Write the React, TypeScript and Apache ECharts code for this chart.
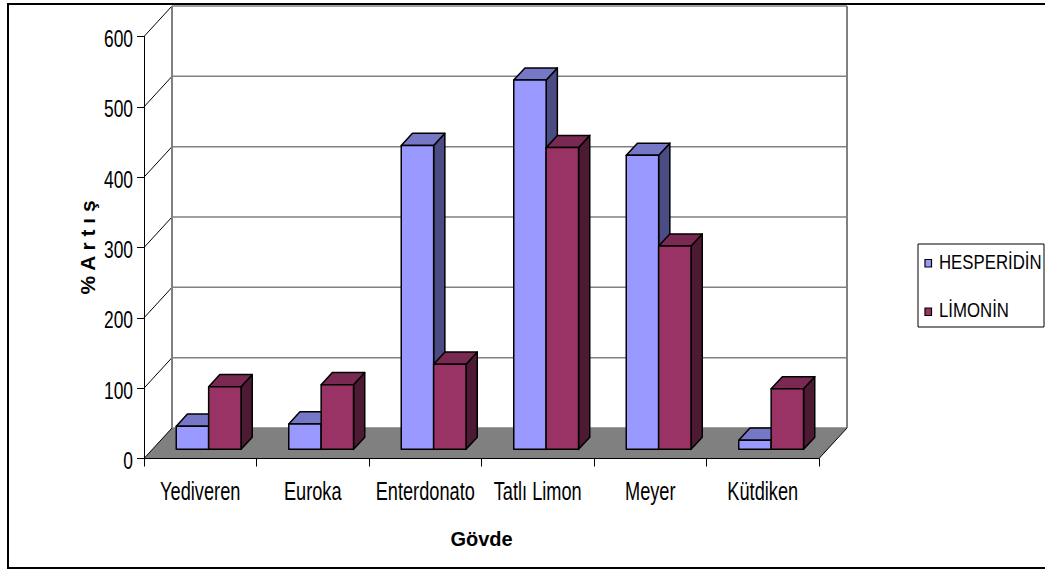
import React, { useEffect, useRef } from "react";
import * as echarts from "echarts";

const categories = ["Yediveren", "Euroka", "Enterdonato", "Tatlı Limon", "Meyer", "Kütdiken"];
const hesperidin = [33, 36, 432, 525, 418, 13];
const limonin = [89, 92, 121, 429, 289, 86];
const yTicks = [0, 100, 200, 300, 400, 500, 600];
const seriesNames = ["HESPERİDİN", "LİMONİN"];

const FONT = "'Liberation Sans', Arial, Helvetica, sans-serif";
const DEPTH = [28, -30.5];
const FRONT = 0.3;
const BACK = 0.7;
const BAR_FRAC = 0.288;

const faces = [
  { front: "#9999FF", top: "#7777C8", side: "#4C4C85" },
  { front: "#993366", top: "#7A2952", side: "#4D1A33" },
];

function barRenderer(idx: number) {
  return (params: any, api: any) => {
    const cat = api.value(0);
    const v = api.value(1);
    const base = api.coord([cat, 0]);
    const top = api.coord([cat, v]);
    const band = api.size([1, 0])[0];
    const bw = band * BAR_FRAC;
    const c = base[0];
    const xl = (idx === 0 ? c - bw : c) + FRONT * DEPTH[0];
    const xr = xl + bw;
    const yt = top[1] + FRONT * DEPTH[1];
    const yb = base[1] + FRONT * DEPTH[1];
    const ddx = (BACK - FRONT) * DEPTH[0];
    const ddy = (BACK - FRONT) * DEPTH[1];
    const col = faces[idx];
    const st = { stroke: "#000", lineWidth: 1.5, lineJoin: "round" };
    return {
      type: "group",
      children: [
        {
          type: "polygon",
          shape: { points: [[xr, yt], [xr + ddx, yt + ddy], [xr + ddx, yb + ddy], [xr, yb]] },
          style: { fill: col.side, ...st },
        },
        {
          type: "polygon",
          shape: { points: [[xl, yt], [xr, yt], [xr + ddx, yt + ddy], [xl + ddx, yt + ddy]] },
          style: { fill: col.top, ...st },
        },
        {
          type: "rect",
          shape: { x: xl, y: yt, width: bw, height: yb - yt },
          style: { fill: col.front, ...st },
        },
      ],
    };
  };
}

function backgroundRenderer(params: any, api: any) {
  const cs = params.coordSys;
  const x0 = cs.x;
  const x1 = cs.x + cs.width;
  const y0 = api.coord([0, 0])[1];
  const yTop = api.coord([0, yTicks[yTicks.length - 1]])[1];
  const [dx, dy] = DEPTH;
  const children: any[] = [];
  children.push({
    type: "polygon",
    shape: { points: [[x0, y0], [x1, y0], [x1 + dx, y0 + dy], [x0 + dx, y0 + dy]] },
    style: { fill: "#808080", stroke: null },
  });
  yTicks.forEach((t) => {
    const y = api.coord([0, t])[1];
    children.push({
      type: "line",
      shape: { x1: x0 + dx, y1: y + dy, x2: x1 + dx, y2: y + dy },
      style: { stroke: "#808080", lineWidth: 1.5 },
    });
    children.push({
      type: "line",
      shape: { x1: x0, y1: y, x2: x0 + dx, y2: y + dy },
      style: { stroke: "#000", lineWidth: 1 },
    });
  });
  children.push({
    type: "line",
    shape: { x1: x0 + dx, y1: yTop + dy, x2: x0 + dx, y2: y0 + dy },
    style: { stroke: "#808080", lineWidth: 2 },
  });
  children.push({
    type: "line",
    shape: { x1: x1 + dx, y1: yTop + dy, x2: x1 + dx, y2: y0 + dy },
    style: { stroke: "#808080", lineWidth: 2 },
  });
  children.push({
    type: "line",
    shape: { x1: x1, y1: y0, x2: x1 + dx, y2: y0 + dy },
    style: { stroke: "#000", lineWidth: 1 },
  });
  return { type: "group", children };
}

function narrowText(x: number, y: number, text: string, size: number, sx: number, align: string) {
  return {
    type: "text",
    x,
    y,
    scaleX: sx,
    style: {
      text,
      x: 0,
      y: 0,
      fill: "#000",
      fontFamily: FONT,
      fontSize: size,
      align,
      verticalAlign: "middle",
      textAlign: align,
      textVerticalAlign: "middle",
    },
  };
}

function xLabelRenderer(params: any, api: any) {
  const p = api.coord([api.value(0), 0]);
  return narrowText(p[0], p[1] + 32.5, categories[params.dataIndex], 26, 0.7, "center");
}

function yLabelRenderer(params: any, api: any) {
  const cs = params.coordSys;
  const p = api.coord([0, api.value(1)]);
  return narrowText(cs.x - 11, p[1] + 2, String(yTicks[params.dataIndex]), 24, 0.725, "right");
}

export default function App() {
  const ref = useRef<HTMLDivElement>(null);
  useEffect(() => {
    if (!ref.current) return;
    const chart = echarts.init(ref.current, null, { renderer: "svg" });
    const legendItems: any[] = [];
    seriesNames.forEach((name, i) => {
      const cy = 261.5 + i * 48.5;
      legendItems.push({
        type: "rect",
        shape: { x: 925, y: cy - 2, width: 6.5, height: 7.5 },
        style: { fill: faces[i].front, stroke: "#000", lineWidth: 1.2 },
        silent: true,
      });
      legendItems.push({ ...narrowText(939, cy, name, 21, 0.8, "left"), silent: true });
    });
    chart.setOption({
      animation: false,
      backgroundColor: "#fff",
      textStyle: { fontFamily: FONT, color: "#000" },
      grid: { left: 144, right: 226, top: 36.5, bottom: 111.5 },
      graphic: [
        {
          type: "rect",
          shape: { x: 8, y: 4, width: 1100, height: 564 },
          style: { fill: null, stroke: "#000", lineWidth: 2 },
          silent: true,
        },
        {
          type: "rect",
          shape: { x: 918, y: 244, width: 126, height: 83 },
          style: { fill: null, stroke: "#000", lineWidth: 1 },
          silent: true,
        },
        ...legendItems,
      ],
      xAxis: {
        type: "category",
        data: categories,
        name: "Gövde",
        nameLocation: "middle",
        nameGap: 70,
        nameTextStyle: { fontFamily: FONT, fontSize: 20, fontWeight: "bold", color: "#000" },
        axisLine: { show: true, lineStyle: { color: "#000", width: 1 } },
        axisTick: { show: true, interval: 0, length: 8, lineStyle: { color: "#000" } },
        axisLabel: { show: false },
        splitLine: { show: false },
        z: 1,
      },
      yAxis: {
        type: "value",
        min: 0,
        max: 600,
        interval: 100,
        name: "% A r t ı ş",
        nameLocation: "middle",
        nameGap: 46,
        nameRotate: 90,
        nameTextStyle: { fontFamily: FONT, fontSize: 21, fontWeight: "bold", color: "#000" },
        axisLine: { show: true, lineStyle: { color: "#000", width: 1 } },
        axisTick: { show: true, length: 7, lineStyle: { color: "#000" } },
        axisLabel: { show: false },
        splitLine: { show: false },
        z: 1,
      },
      series: [
        {
          type: "custom",
          name: "_bg",
          silent: true,
          z: -1,
          renderItem: backgroundRenderer,
          data: [[0, 0]],
          encode: { x: 0, y: 1 },
        },
        {
          type: "custom",
          name: "_xlabels",
          silent: true,
          renderItem: xLabelRenderer,
          data: categories.map((c, i) => [i, 0]),
          encode: { x: 0, y: 1 },
        },
        {
          type: "custom",
          name: "_ylabels",
          silent: true,
          renderItem: yLabelRenderer,
          data: yTicks.map((t) => [0, t]),
          encode: { x: 0, y: 1 },
        },
        {
          type: "custom",
          name: seriesNames[0],
          z: 3,
          renderItem: barRenderer(0),
          itemStyle: { color: faces[0].front },
          data: hesperidin.map((v, i) => [i, v]),
          encode: { x: 0, y: 1 },
        },
        {
          type: "custom",
          name: seriesNames[1],
          z: 4,
          renderItem: barRenderer(1),
          itemStyle: { color: faces[1].front },
          data: limonin.map((v, i) => [i, v]),
          encode: { x: 0, y: 1 },
        },
      ],
    });
    return () => chart.dispose();
  }, []);
  return (
    <div
      ref={ref}
      style={{ position: "absolute", left: 0, top: 0, width: 1045, height: 570 }}
    />
  );
}
